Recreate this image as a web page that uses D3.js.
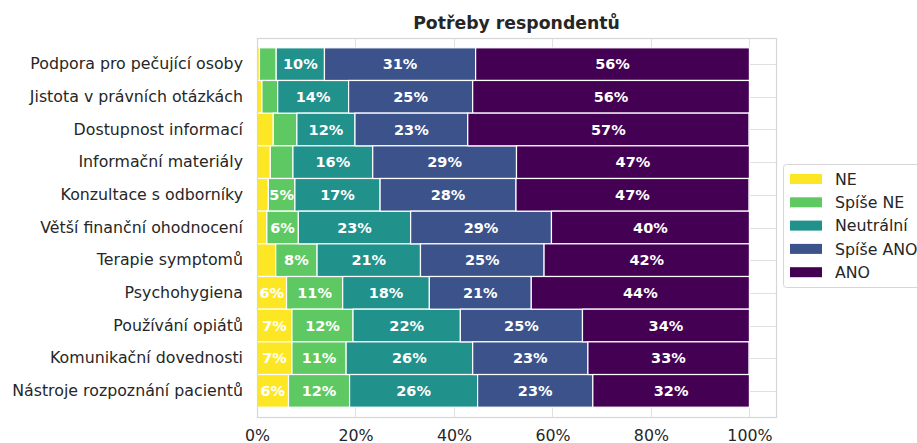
<!DOCTYPE html>
<html>
<head>
	<meta charset="utf-8">
	<title>Potřeby respondentů</title>
	<script src="https://d3js.org/d3.v7.min.js"></script>
	<style>
		body { margin: 0; background: #fff; }
		svg { font-family: "DejaVu Sans", sans-serif; }
		.grid line { stroke: #e0e0e0; stroke-width: 1; }
		.axis path, .axis line { display: none; }
		.axis text { fill: #262626; font-size: 15.8px; font-family: "DejaVu Sans", sans-serif; }
		.lbl { fill: #fff; font-weight: bold; font-size: 14.5px; }
	</style>
</head>
<body>
<svg width="917" height="443"></svg>
<script>

	var categories = [
		"Podpora pro pečující osoby",
		"Jistota v právních otázkách",
		"Dostupnost informací",
		"Informační materiály",
		"Konzultace s odborníky",
		"Větší finanční ohodnocení",
		"Terapie symptomů",
		"Psychohygiena",
		"Používání opiátů",
		"Komunikační dovednosti",
		"Nástroje rozpoznání pacientů"
	];

	var seriesNames = ["NE", "Spíše NE", "Neutrální", "Spíše ANO", "ANO"];
	var colors = ["#fde725", "#5ec962", "#21918c", "#3b528b", "#440154"];

	// percent per category, in the order of categories
	var ne       = [0.5, 1.0, 3.3, 2.7, 2.3, 2.0, 3.8, 6.0, 7.1, 7.1, 6.4];
	var spiseNe  = [3.4, 3.2, 4.8, 4.6, 5.4, 6.4, 8.4, 11.4, 12.4, 11.0, 12.4];
	var neutral  = [9.8, 14.4, 11.8, 16.2, 17.3, 22.8, 21.0, 17.6, 21.8, 25.7, 26.0];
	var spiseAno = [30.7, 25.2, 22.9, 29.2, 27.6, 28.6, 25.1, 20.7, 24.8, 23.4, 23.4];
	var ano      = [55.6, 56.2, 57.1, 47.3, 47.3, 40.2, 41.7, 44.3, 33.9, 32.7, 31.8];

	var xTicks = [0, 20, 40, 60, 80, 100];

	var series = [ne, spiseNe, neutral, spiseAno, ano];

	var svg = d3.select("svg"),
	margin = {top: 38, right: 141, bottom: 26, left: 257},
	width = +svg.attr("width") - margin.left - margin.right,
	height = +svg.attr("height") - margin.top - margin.bottom;

	var x = d3.scaleLinear().domain([0, 105.4]).range([0, width]);
	var y = d3.scaleBand().domain(categories).range([0, height]).paddingOuter(0.3).paddingInner(0);

	var g = svg.append("g")
	.attr("transform", "translate(" + margin.left + "," + margin.top + ")");

	// grid
	var grid = g.append("g").attr("class", "grid");
	grid.selectAll(".gx").data(xTicks).enter().append("line")
	.attr("x1", function(d) { return Math.round(x(d)) + 0.5; })
	.attr("x2", function(d) { return Math.round(x(d)) + 0.5; })
	.attr("y1", 0).attr("y2", height);
	grid.selectAll(".gy").data(categories).enter().append("line")
	.attr("x1", 0).attr("x2", width)
	.attr("y1", function(d) { return Math.round(y(d) + y.bandwidth() / 2) + 0.5; })
	.attr("y2", function(d) { return Math.round(y(d) + y.bandwidth() / 2) + 0.5; });

	// stacked bars
	var rows = categories.map(function(c, i) {
		var r = {cat: c};
		seriesNames.forEach(function(s, j) { r[s] = series[j][i]; });
		return r;
	});
	var stack = d3.stack().keys(seriesNames)(rows);

	var layer = g.selectAll(".layer").data(stack).enter().append("g")
	.attr("fill", function(d, i) { return colors[i]; });

	layer.selectAll("rect").data(function(d) { return d; }).enter().append("rect")
	.attr("x", function(d) { return x(d[0]); })
	.attr("y", function(d) { return y(d.data.cat); })
	.attr("width", function(d) { return x(d[1]) - x(d[0]); })
	.attr("height", y.bandwidth())
	.attr("stroke", "#fff")
	.attr("stroke-width", 1.2);

	layer.selectAll("text").data(function(d) { return d.filter(function(p) { return p[1] - p[0] >= 5; }); })
	.enter().append("text")
	.attr("class", "lbl")
	.attr("x", function(d) { return x((d[0] + d[1]) / 2); })
	.attr("y", function(d) { return y(d.data.cat) + y.bandwidth() / 2; })
	.attr("dy", "0.36em")
	.attr("text-anchor", "middle")
	.text(function(d) { return Math.round(d[1] - d[0]) + "%"; });

	// frame
	g.append("rect")
	.attr("x", 0.5).attr("y", 0.5)
	.attr("width", width).attr("height", height)
	.attr("fill", "none").attr("stroke", "#d6d6d6").attr("stroke-width", 1.2);

	// axes
	g.append("g")
	.attr("class", "axis")
	.attr("transform", "translate(0," + height + ")")
	.call(d3.axisBottom(x).tickValues(xTicks).tickSize(0).tickPadding(13).tickFormat(function(d) { return d + "%"; }));

	g.append("g")
	.attr("class", "axis")
	.call(d3.axisLeft(y).tickSize(0).tickPadding(14));

	// title
	svg.append("text")
	.attr("x", margin.left + width / 2)
	.attr("y", 29)
	.attr("text-anchor", "middle")
	.attr("font-weight", "bold")
	.attr("font-size", "17.3px")
	.attr("fill", "#262626")
	.text("Potřeby respondentů");

	// legend
	var lg = svg.append("g").attr("transform", "translate(783,164)");
	lg.append("rect")
	.attr("x", 0.5).attr("y", 0.5).attr("width", 150).attr("height", 123)
	.attr("rx", 3).attr("fill", "#fff").attr("stroke", "#d6d6d6");
	var item = lg.selectAll(".item").data(seriesNames).enter().append("g")
	.attr("transform", function(d, i) { return "translate(0," + (i * 23.3) + ")"; });
	item.append("rect")
	.attr("x", 7).attr("y", 10).attr("width", 32).attr("height", 10)
	.attr("fill", function(d, i) { return colors[i]; });
	item.append("text")
	.attr("x", 52).attr("y", 15).attr("dy", "0.36em")
	.attr("font-size", "15.8px").attr("fill", "#262626")
	.text(function(d) { return d; });
</script>
</body>
</html>
